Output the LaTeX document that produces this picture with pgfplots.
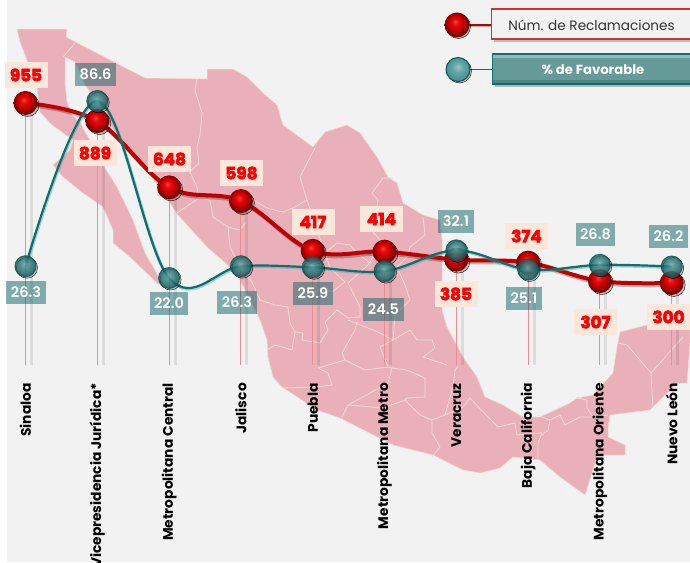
\documentclass[border=0pt]{standalone}
\usepackage{fontspec}
\usepackage{pgfplots}
\pgfplotsset{compat=1.18}
\usepackage{pgfplotstable}
\setmainfont{Poppins}
\newfontfamily\redlab[FakeBold=3.6]{Poppins Bold}
\newfontfamily\wlab{Poppins SemiBold}
\newfontfamily\catlab{Poppins Bold}
\definecolor{bgc}{HTML}{F2F2F2}
\definecolor{mapc}{HTML}{EAB0B9}
\definecolor{mapb}{HTML}{F5D9D4}
\definecolor{redl}{HTML}{C00000}
\definecolor{tealb}{HTML}{0F6F70}
\definecolor{tealdark}{HTML}{0D5557}
\definecolor{labt}{RGB}{0,93,95}
\definecolor{labr}{HTML}{FCE7DA}
\definecolor{pinkl}{HTML}{F28B8B}
\definecolor{legt}{HTML}{669A98}
\definecolor{legtl}{HTML}{8FBDB8}
\definecolor{legtd}{HTML}{4F8584}
\definecolor{ra}{HTML}{FF3A3A}
\definecolor{rb}{HTML}{E60A0A}
\definecolor{rc}{HTML}{B80000}
\definecolor{rd}{HTML}{6E0000}
\definecolor{re}{HTML}{4A0000}
\definecolor{ta}{HTML}{6FB3B3}
\definecolor{tb}{HTML}{458F90}
\definecolor{tc}{HTML}{2A7072}
\definecolor{td}{HTML}{145759}
\definecolor{te}{HTML}{0D4C4C}
\definecolor{la}{HTML}{94C7C7}
\definecolor{lb}{HTML}{66A8A8}
\definecolor{lc}{HTML}{478F8F}
\definecolor{ld}{HTML}{336666}
\pgfdeclareradialshading{redballshade}{\pgfpoint{-4bp}{7bp}}{color(0bp)=(ra);color(7bp)=(rb);color(17bp)=(rc);color(25bp)=(rd);color(40bp)=(re)}
\pgfdeclareradialshading{tealballshade}{\pgfpoint{-2bp}{6bp}}{color(0bp)=(ta);color(8bp)=(tb);color(18bp)=(tc);color(25bp)=(td);color(40bp)=(te)}
\pgfdeclareradialshading{tealleg}{\pgfpoint{0bp}{6bp}}{color(0bp)=(la);color(10bp)=(lb);color(25bp)=(lc);color(40bp)=(ld)}
\pgfdeclareplotmark{redball}{\pgfpathcircle{\pgfpointorigin}{\pgfplotmarksize}\pgfshadepath{redballshade}{0}\pgfusepath{discard}}
\pgfdeclareplotmark{tealball}{\pgfpathcircle{\pgfpointorigin}{\pgfplotmarksize}\pgfshadepath{tealballshade}{0}\pgfusepath{stroke}}
\pgfdeclareplotmark{teallegball}{\pgfpathcircle{\pgfpointorigin}{\pgfplotmarksize}\pgfshadepath{tealleg}{0}\pgfusepath{stroke}}
\pgfplotstableread{
x y lbl dx dy
0 955 955 0.5 28
1 889 889 -2.3 -32
2 648 648 0.4 28.3
3 598 598 0.6 28
4 417 417 0.3 28.8
5 414 414 -3 32.6
6 385 385 -0.3 -34.4
7 374 374 -1.6 26.6
8 307 307 -4.4 -41
9 300 300 -3.2 -34
}\redtable
\pgfplotstableread[col sep=space]{
x y lbl dx dy
0 26.3 26.3 0.5 -26.3
1 86.6 86.6 -1.8 26.5
2 22.0 22.0 -0.1 -25.5
3 26.3 26.3 -3.9 -36.3
4 25.9 25.9 0.3 -26.2
5 24.5 24.5 -1 -38.3
6 32.1 32.1 -0.3 28.8
7 25.1 25.1 -4.1 -29
8 26.8 26.8 -4.4 30.4
9 26.2 26.2 -3.2 30
}\tealtable
\pgfplotsset{
  frame/.style={scale only axis,width=690pt,height=562pt,at={(0,0)},anchor=south west},
  catx/.style={xmin=-0.3552,xmax=9.2549},
  px/.style={frame,hide axis,xmin=0,xmax=690,ymin=0,ymax=562,y dir=reverse,clip=true},
  border/.style={draw=mapb,line width=0.8pt,no marks,line join=round},
}
\begin{document}
\begin{tikzpicture}[x=1pt,y=1pt]
\useasboundingbox (0,0) rectangle (690pt,562pt);
\clip (0,0) rectangle (690pt,562pt);
% background and map
\begin{axis}[px]
\addplot[fill=bgc,draw=none,no marks] coordinates {(7,0)(690,0)(690,562)(7,562)} -- cycle;
\addplot[fill=mapc,draw=mapb,line width=0.5pt,no marks] coordinates {
(17,29)(67,29)(66,37)(145,78)(207,79)(207,69)(233,69)(247,77)(263,93)(277,105)(283,125)(313,147)(325,132)(347,125)(360,133)(377,157)(388,177)(397,183)(403,203)(423,215)(440,220)(442,240)(442,275)(442,310)(447,327)(463,357)(477,377)(485,397)(503,405)(523,417)(540,417)(570,403)(577,398)(593,395)(600,387)(613,373)(617,347)(620,332)(647,325)(690,327)(690,343)(687,383)(678,383)(663,397)(653,407)(650,410)(610,415)(608,428)(608,437)(625,445)(625,455)(597,455)(593,470)(585,495)(560,477)(540,460)(513,457)(500,468)(480,473)(463,470)(433,455)(393,445)(340,418)(317,410)(282,387)(273,377)(268,357)(267,340)(260,320)(240,280)(230,267)(207,247)(178,215)(147,170)(122,140)(110,125)(103,112)(95,98)(85,85)(75,62)(65,57)(65,83)(67,102)(72,115)(80,122)(85,132)(90,140)(97,152)(105,168)(117,187)(133,220)(145,253)(152,265)(165,288)(157,283)(130,257)(113,243)(113,230)(103,207)(83,193)(63,177)(53,165)(70,150)(73,140)(52,125)(40,112)(37,88)(30,68)(20,42)(17,29)
} -- cycle;
\addplot[border] coordinates {(75,43)(63,57)};
\addplot[border] coordinates {(197,79)(195,90)(202,113)(200,135)(197,147)(199,163)(190,172)(197,187)(199,198)(177,213)};
\addplot[border] coordinates {(199,198)(210,200)(213,217)(228,227)(230,247)(240,267)};
\addplot[border] coordinates {(228,227)(240,230)(246,222)};
\addplot[border] coordinates {(246,195)(253,200)(267,208)(283,212)(293,208)(307,200)(300,177)(315,148)};
\addplot[border] coordinates {(393,178)(383,178)(372,193)(378,200)(373,232)(380,240)(370,263)(348,283)};
\addplot[border] coordinates {(423,217)(425,235)(410,247)(407,257)(397,267)};
\addplot[border] coordinates {(307,200)(325,253)(337,243)(350,245)(357,253)(370,263)};
\addplot[border] coordinates {(325,253)(330,268)(345,282)(332,292)(322,288)(300,300)};
\addplot[border] coordinates {(240,267)(252,282)(260,300)(275,305)(288,307)(290,323)(295,332)(292,350)(275,345)(267,350)};
\addplot[border] coordinates {(295,332)(303,333)(302,340)(320,343)(328,330)(325,322)(337,310)(348,318)(360,317)(360,307)(348,283)};
\addplot[border] coordinates {(348,320)(378,332)(393,340)(410,330)(417,340)(432,340)(435,348)(423,357)(447,365)};
\addplot[border] coordinates {(397,267)(405,285)(410,300)(395,315)(393,340)};
\addplot[border] coordinates {(357,322)(355,330)(342,353)(345,360)(318,368)(328,373)(332,385)(315,387)(282,388)};
\addplot[border] coordinates {(345,360)(365,370)(388,367)(380,347)(393,340)};
\addplot[border] coordinates {(388,367)(392,368)(388,383)(348,405)(342,417)};
\addplot[border] coordinates {(348,405)(383,408)(405,400)(420,415)(432,420)(432,433)(440,447)(432,457)};
\addplot[border] coordinates {(392,368)(407,370)(425,378)(425,397)(407,398)(405,400)};
\addplot[border] coordinates {(432,420)(445,415)(453,387)(455,370)(458,367)};
\addplot[border] coordinates {(445,415)(463,407)(470,398)(488,417)(498,427)(515,423)(517,435)(542,433)(538,443)(538,460)};
\addplot[border] coordinates {(537,415)(550,420)(548,430)(542,435)};
\addplot[border] coordinates {(550,420)(560,415)(565,425)(580,417)(593,417)(608,415)};
\addplot[border] coordinates {(577,398)(587,400)(587,408)(593,417)};
\addplot[border] coordinates {(618,343)(627,345)(651,373)(683,337)};
\addplot[border] coordinates {(651,373)(653,407)};
\end{axis}
% red series
\begin{axis}[frame,catx,ymin=-715.4,ymax=1329.7,clip=false,
  axis line style={draw=none},tick style={draw=none},ytick=\empty,
  xtick={0,...,9},
  xticklabels={Sinaloa,Vicepresidencia Jurídica*,Metropolitana Central,Jalisco,Puebla,Metropolitana Metro,Veracruz,Baja California,Metropolitana Oriente,Nuevo León},
  xticklabel style={yshift=179pt,rotate=90,anchor=east,inner sep=0pt,font=\catlab\fontsize{13.8}{15}\selectfont,text=black}]
\addplot[ycomb,black,opacity=0.09,line width=3pt,no marks,xshift=6pt] table[x=x,y=y]{\redtable};
\addplot[smooth,tension=0.6,black,opacity=0.25,line width=4pt,no marks,xshift=1.5pt,yshift=-2pt] table[x=x,y=y]{\redtable};
\addplot[smooth,tension=0.6,redl,line width=4pt,no marks] table[x=x,y=y]{\redtable};
\addplot[only marks,mark=*,mark size=11.5pt,mark options={draw=none,fill=black,fill opacity=0.2},xshift=2pt,yshift=-2pt] table[x=x,y=y]{\redtable};
\addplot[only marks,mark=redball,mark size=12pt] table[x=x,y=y]{\redtable};
\addplot[ycomb,pinkl,line width=1pt,no marks] table[x=x,y=y]{\redtable};
\addplot[draw=none,no marks,
  visualization depends on={\thisrow{dx}\as\ldx},
  visualization depends on={\thisrow{dy}\as\ldy},
  point meta=explicit symbolic,
  nodes near coords,
  every node near coord/.append style={anchor=center,xshift=\ldx pt,yshift=\ldy pt,fill=labr,text=red,inner xsep=0pt,inner ysep=0pt,minimum height=26pt,minimum width=43pt,font=\redlab\fontsize{16.8}{18}\selectfont}]
 table[x=x,y=y,meta=lbl]{\redtable};
\end{axis}
% teal series
\begin{axis}[frame,catx,ymin=-81.64,ymax=123.47,clip=false,hide axis]
\addplot[smooth,tension=0.6,teal!70!white,opacity=0.45,line width=3.2pt,no marks,xshift=0.6pt,yshift=-1pt] table[x=x,y=y]{\tealtable};
\addplot[smooth,tension=0.6,tealb,line width=2.2pt,no marks] table[x=x,y=y]{\tealtable};
\addplot[only marks,mark=*,mark size=10.5pt,mark options={draw=none,fill=black,fill opacity=0.15},xshift=1.5pt,yshift=-1.5pt] table[x=x,y=y]{\tealtable};
\addplot[only marks,mark=tealball,mark size=10.5pt,mark options={draw=tealdark,line width=1pt,opacity=0.82}] table[x=x,y=y]{\tealtable};
\addplot[draw=none,no marks,
  visualization depends on={\thisrow{dx}\as\ldx},
  visualization depends on={\thisrow{dy}\as\ldy},
  point meta=explicit symbolic,
  nodes near coords,
  every node near coord/.append style={anchor=center,xshift=\ldx pt,yshift=\ldy pt,fill=labt,fill opacity=0.47,text opacity=1,text=white,inner xsep=4.5pt,inner ysep=0pt,minimum height=23pt,font=\wlab\fontsize{14.5}{15}\selectfont}]
 table[x=x,y=y,meta=lbl]{\tealtable};
\end{axis}
% legend
\begin{axis}[px]
\addplot[black,opacity=0.25,line width=2pt,no marks,yshift=-1.5pt] coordinates {(465,25)(492,25)};
\addplot[redl,line width=1.6pt,no marks] coordinates {(465,25)(492,25)};
\addplot[tealb,line width=1.6pt,no marks] coordinates {(465,69.5)(493,69.5)};
\addplot[only marks,mark=*,mark size=12pt,mark options={draw=none,fill=black,fill opacity=0.2},xshift=1.5pt,yshift=-1.5pt] coordinates {(457,25)(458,69.5)};
\addplot[only marks,mark=redball,mark size=12.5pt] coordinates {(457,25)};
\addplot[only marks,mark=teallegball,mark size=12pt,mark options={draw=tealdark,line width=1pt}] coordinates {(458,69.5)};
\fill[black,opacity=0.22] (axis cs:494,12) rectangle (axis cs:692,42);
\draw[fill=bgc,draw=redl!80!white,line width=1.4pt] (axis cs:491.5,9) rectangle (axis cs:692,39);
\node[text=black!80,font=\fontsize{13.6}{15}\selectfont] at (axis cs:591.5,25) {Núm. de Reclamaciones};
\fill[black,opacity=0.25] (axis cs:495,57) rectangle (axis cs:692,87);
\fill[legt] (axis cs:492.5,54) rectangle (axis cs:692,84);
\fill[legtl] (axis cs:492.5,54) rectangle (axis cs:692,58);
\fill[legtd] (axis cs:492.5,80) rectangle (axis cs:692,84);
\draw[tealb,line width=1.3pt] (axis cs:492.5,54) rectangle (axis cs:692,84);
\node[text=white,font=\catlab\fontsize{13.2}{15}\selectfont] at (axis cs:593,70) {\% de Favorable};
\end{axis}
\end{tikzpicture}
\end{document}
